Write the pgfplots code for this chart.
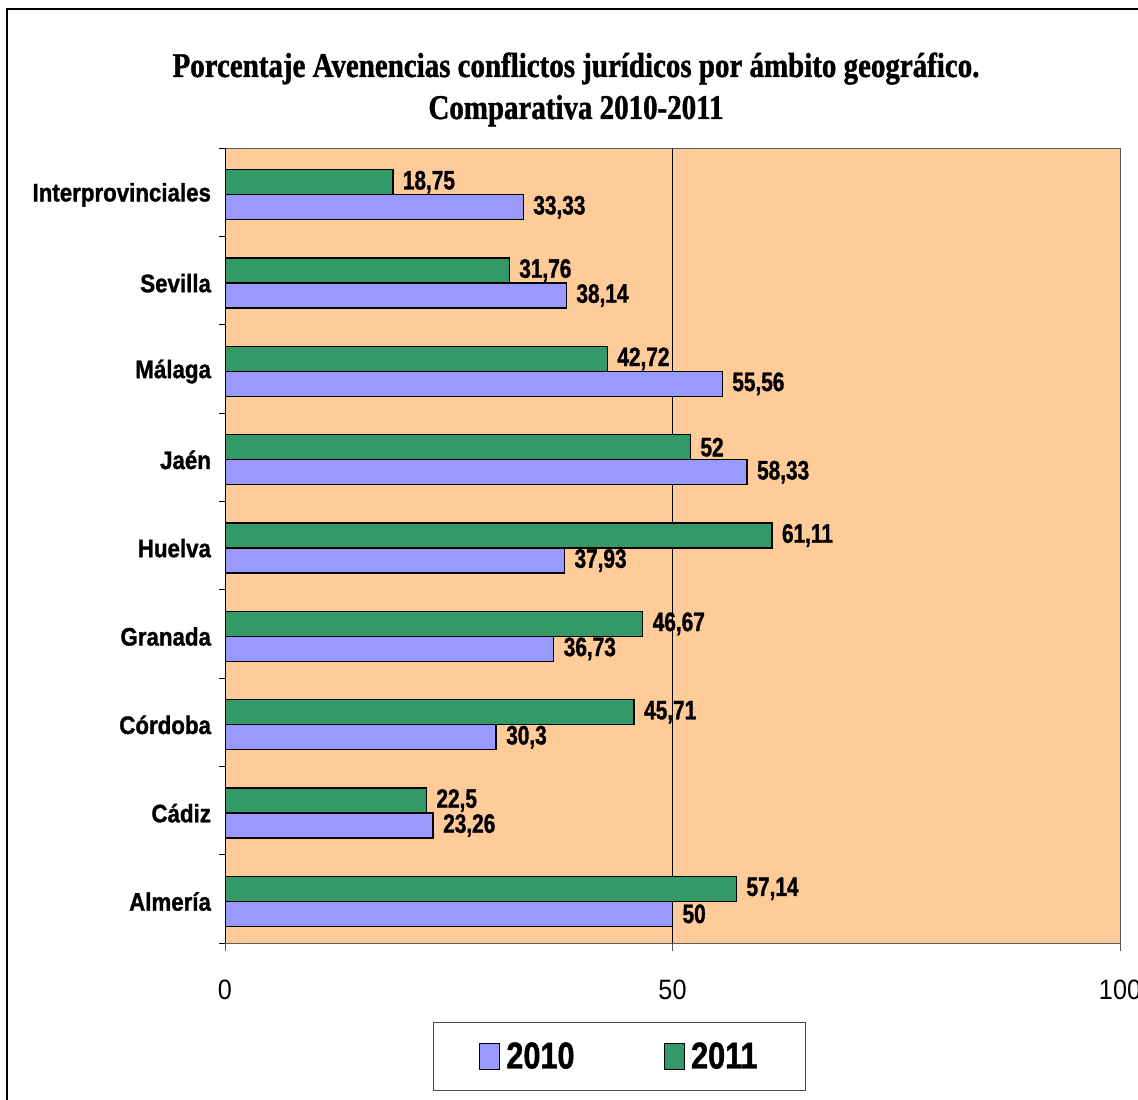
\documentclass[border=0pt]{standalone}
\usepackage{pgfplots}
\pgfplotsset{compat=1.18}
\usepackage{pgfplotstable}
\usepackage{fontspec}
\setmainfont{Liberation Sans}
\newfontfamily\titlefont[FakeStretch=0.835,FakeBold=1.2]{Liberation Serif Bold}
\newfontfamily\labfont[FakeStretch=0.78,FakeBold=1.2]{Liberation Sans Bold}
\newfontfamily\catfont[FakeStretch=0.88,FakeBold=1.2]{Liberation Sans Bold}
\newfontfamily\legfont[FakeStretch=0.82,FakeBold=1.2]{Liberation Sans Bold}
\newfontfamily\tickfont[FakeStretch=0.9]{Liberation Sans}
\definecolor{bgorange}{HTML}{FFCC99}
\definecolor{cA}{HTML}{9999FF}
\definecolor{cB}{HTML}{339966}

\pgfplotstableread{
y v l
0 50 50
1 23.26 23,26
2 30.3 30,3
3 36.73 36,73
4 37.93 37,93
5 58.33 58,33
6 55.56 55,56
7 38.14 38,14
8 33.33 33,33
}\dataA
\pgfplotstableread{
y v l
0 57.14 57,14
1 22.5 22,5
2 45.71 45,71
3 46.67 46,67
4 61.11 61,11
5 52 52
6 42.72 42,72
7 31.76 31,76
8 18.75 18,75
}\dataB

\begin{document}
\begin{tikzpicture}
\clip (0,0) rectangle (853.5pt,824.25pt);
\fill[white] (0,0) rectangle (853.5pt,824.25pt);
\begin{scope}[x=0.75pt,y=0.75pt]
\draw[black, line width=0.9pt] (7,{1099-9}) rectangle (1160,-20);
\node[anchor=base, font=\titlefont\fontsize{26}{30}\selectfont] at (576,{1099-77}) {Porcentaje Avenencias conflictos jurídicos por ámbito geográfico.};
\node[anchor=base, font=\titlefont\fontsize{26}{30}\selectfont] at (576,{1099-119}) {Comparativa 2010-2011};
\end{scope}
\begin{axis}[
  at={(168.75pt,117pt)}, anchor=south west,
  scale only axis, width=671.25pt, height=596.25pt,
  xmin=0, xmax=100, ymin=-0.5, ymax=8.5,
  axis background/.style={fill=bgorange},
  axis line style={draw=gray!70!black, line width=0.6pt},
  xtick={0,50,100},
  xticklabels={0,50,100},
  xtick pos=bottom, ytick pos=left,
  xmajorgrids, grid style={black, line width=0.6pt},
  ytick={0,...,8},
  yticklabels={Almería,Cádiz,Córdoba,Granada,Huelva,Jaén,Málaga,Sevilla,Interprovinciales},
  minor ytick={-0.5,0.5,...,8.5},
  ytick style={draw=none},
  minor y tick style={draw=black, line width=0.6pt},
  xtick style={draw=gray!70!black, line width=0.6pt},
  tick align=outside,
  major tick length=6pt,
  minor tick length=4.5pt,
  x tick label style={font=\tickfont\fontsize{21}{24}\selectfont, yshift=-18pt},
  y tick label style={font=\catfont\fontsize{19}{22}\selectfont, xshift=-1pt, yshift=-2pt},
  xbar, bar width=18.75pt,
  point meta=explicit symbolic,
  nodes near coords,
  every node near coord/.append style={font=\labfont\fontsize{20}{22}\selectfont, anchor=west, inner sep=0pt, xshift=7pt, text=black},
  legend style={at={(0.441,-0.0994)}, anchor=north, draw=black!70, line width=0.6pt, legend columns=2,
     font=\legfont\fontsize{28}{30}\selectfont, inner xsep=34pt, inner ysep=13pt,
     /tikz/every even column/.append style={column sep=65pt}},
  legend image code/.code={\draw[#1, draw=black, line width=0.9pt] (0pt,-9.75pt) rectangle (15pt,9.75pt); \path[draw=none, fill=none] (0pt,0pt) -- (18pt,0pt);},
]
\addplot[fill=cA, draw=black, line width=1.1pt, bar shift=-11.25pt] table[x=v,y=y,meta=l] {\dataA};
\addplot[fill=cB, draw=black, line width=1.1pt, bar shift=7.5pt] table[x=v,y=y,meta=l] {\dataB};
\draw[black, line width=0.9pt] (rel axis cs:0,0) -- (rel axis cs:0,1);
\legend{2010,2011}
\end{axis}
\end{tikzpicture}
\end{document}
